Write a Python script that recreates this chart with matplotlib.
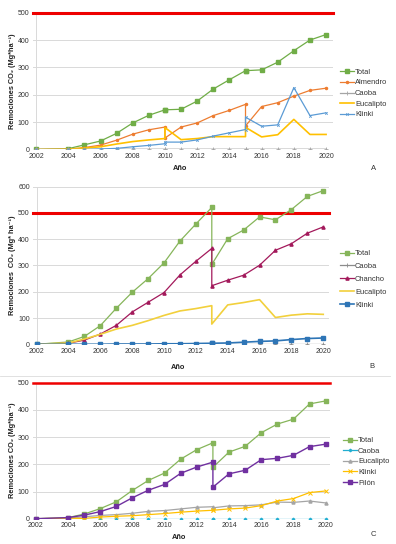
import matplotlib
matplotlib.use('Agg')
import matplotlib.pyplot as plt
from matplotlib.lines import Line2D

plt.rcParams['font.family'] = ['Liberation Sans', 'DejaVu Sans']

# --- Panel A ---
years_a = [2002, 2004, 2005, 2006, 2007, 2008, 2009, 2010, 2010, 2011,
           2012, 2013, 2014, 2015, 2015, 2016, 2017, 2018, 2019, 2020]
total_a = [0, 3, 17, 31, 59, 97, 125, 145, 145, 147,
           177, 221, 255, 288, 288, 291, 319, 361, 400, 420]
almendro_a = [0, 1, 7, 16, 34, 56, 72, 82, 42, 82,
              97, 124, 143, 165, 86, 157, 171, 195, 216, 224]
caoba_a = [0, 0, 0, 1, 1, 1, 1, 1, 1, 1,
           1, 1, 1, 1, 1, 1, 1, 1, 1, 1]
eucalipto_a = [0, 1, 5, 10, 20, 29, 35, 40, 80, 36,
               40, 47, 47, 47, 81, 46, 54, 110, 55, 55]
klinki_a = [0, 0, 0, 2, 4, 10, 15, 21, 27, 27,
            35, 49, 61, 73, 118, 85, 90, 226, 124, 134]

# --- Panel B ---
years_b = [2002, 2004, 2005, 2006, 2007, 2008, 2009, 2010, 2011, 2012,
           2013, 2013, 2014, 2015, 2016, 2017, 2018, 2019, 2020]
total_b = [0, 9, 30, 71, 137, 198, 250, 310, 393, 458,
           521, 304, 402, 435, 485, 474, 513, 563, 585]
caoba_b = [0] * 19
chancho_b = [0, 4, 16, 39, 72, 123, 160, 197, 264, 316,
             365, 223, 244, 263, 301, 358, 383, 423, 447]
eucalipto_b = [0, 5, 20, 38, 58, 72, 90, 110, 127, 136,
               147, 77, 150, 159, 170, 102, 111, 116, 114]
klinki_b = [0, 0, 0, 0, 1, 1, 1, 2, 2, 3,
            4, 4, 5, 8, 11, 13, 18, 22, 24]

# --- Panel C ---
years_c = years_b
total_c = [0, 4, 17, 37, 62, 104, 141, 168, 219, 254,
           279, 189, 245, 266, 316, 348, 366, 422, 433]
caoba_c = [0] * 19
eucalipto_c = [0, 2, 7, 12, 15, 20, 27, 30, 36, 42,
               44, 40, 47, 48, 51, 61, 60, 65, 58]
klinki_c = [0, 2, 1, 6, 9, 11, 15, 19, 24, 28,
            31, 31, 36, 39, 48, 65, 74, 96, 102]
pilon_c = [0, 4, 13, 26, 45, 77, 105, 126, 167, 190,
           208, 116, 165, 178, 217, 222, 233, 265, 274]

xticks = list(range(2002, 2021, 2))
tick_color = '#333333'
grid_color = '#d9d9d9'

fig = plt.figure(figsize=(3.96, 5.44), dpi=100)


def style_axis(ax, xlim, ymax, ylabel, xlab_y, red_lw):
    ax.set_xlim(*xlim)
    ax.set_ylim(0, ymax)
    ax.set_xticks(xticks)
    ax.set_yticks(range(0, ymax + 1, 100))
    for s in ax.spines.values():
        s.set_visible(False)
    ax.yaxis.grid(True, color=grid_color, lw=0.7)
    ax.set_axisbelow(True)
    ax.axvline(2002, color=grid_color, lw=0.7, zorder=0)
    ax.axhline(500, color='#ee0000', lw=red_lw, clip_on=False, zorder=1)
    ax.tick_params(length=0, labelsize=5, colors=tick_color, pad=2.5)
    ax.set_ylabel(ylabel, fontsize=5.3, fontweight='bold', color='#222222')
    ax.yaxis.set_label_coords(-0.058, 0.5)
    ax.set_xlabel('Año', fontsize=5.3, fontweight='bold', color='#222222')
    ax.xaxis.set_label_coords(0.49, xlab_y)


def add_legend(ax, x, y, spacing):
    ax.legend(loc='center left', bbox_to_anchor=(x, y), bbox_transform=fig.transFigure,
              frameon=False, fontsize=5.4, handlelength=1.8, handletextpad=0.2,
              labelspacing=spacing, borderpad=0, borderaxespad=0, labelcolor=tick_color)


# Panel A
ax_a = fig.add_axes([33 / 396, 0.7252, 300 / 396, 0.2515])
ax_a.plot(years_a, total_a, color='#70ad47', lw=0.9, marker='s', ms=2.2, label='Total')
ax_a.plot(years_a, almendro_a, color='#ed7d31', lw=0.9, marker='o', ms=1.5, label='Almendro')
ax_a.plot(years_a, caoba_a, color='#a5a5a5', lw=0.9, marker='+', ms=2.5, mew=0.6, label='Caoba')
ax_a.plot(years_a, eucalipto_a, color='#ffc000', lw=1.2, label='Eucalipto')
ax_a.plot(years_a, klinki_a, color='#5b9bd5', lw=0.9, marker='x', ms=1.8, mew=0.6, label='Klinki')
style_axis(ax_a, (2001.81, 2020.43), 500, 'Remociones CO₂ (Mg*ha⁻¹)', -0.11, 2.2)
add_legend(ax_a, 340 / 396, 1 - 93.5 / 544, 0.45)

# Panel B
ax_b = fig.add_axes([33.3 / 396, 0.3671, 296 / 396, 0.2897])
ax_b.plot(years_b, total_b, color='#86b55a', lw=0.9, marker='s', ms=2.2, label='Total')
ax_b.plot(years_b, caoba_b, color='#8c8c8c', lw=0.9, marker='+', ms=2.5, mew=0.6, label='Caoba')
ax_b.plot(years_b, chancho_b, color='#a3195b', lw=0.9, marker='^', ms=2.3, label='Chancho')
ax_b.plot(years_b, eucalipto_b, color='#f2d03c', lw=1.2, label='Eucalipto')
ax_b.plot(years_b, klinki_b, color='#2e75b6', lw=1.2, marker='s', ms=2.6, label='Klinki')
style_axis(ax_b, (2001.79, 2020.38), 600, 'Remociones  CO₂ (Mg* ha⁻¹)', -0.122, 2.2)
add_legend(ax_b, 340 / 396, 1 - 279.3 / 544, 0.75)

# Panel C
ax_c = fig.add_axes([33 / 396, 0.0465, 297 / 396, 0.25])
ax_c.plot(years_c, total_c, color='#86b55a', lw=0.9, marker='s', ms=2.4, label='Total')
ax_c.plot(years_c, caoba_c, color='#22aed1', lw=0.9, marker='D', ms=1.3, label='Caoba')
ax_c.plot(years_c, eucalipto_c, color='#a5a5a5', lw=0.9, marker='^', ms=2.2, label='Eucalipto')
ax_c.plot(years_c, klinki_c, color='#ffc000', lw=0.9, marker='x', ms=2.2, mew=0.7, label='Klinki')
ax_c.plot(years_c, pilon_c, color='#7030a0', lw=1.0, marker='s', ms=2.8, label='Pilón')
style_axis(ax_c, (2001.83, 2020.27), 500, 'Remociones CO₂ (Mg*ha⁻¹)', -0.109, 1.8)
add_legend(ax_c, 343 / 396, 1 - 461.8 / 544, 0.45)

# separator between panels B and C
fig.add_artist(Line2D([0, 0.985], [1 - 376 / 544] * 2, transform=fig.transFigure,
                      color='#dcdcdc', lw=0.6))

for letter, px, py in [('A', 374, 169), ('B', 372, 366), ('C', 373, 534)]:
    fig.text(px / 396, 1 - py / 544, letter, fontsize=5.5, color=tick_color,
             ha='center', va='center')

fig.savefig('out.png', dpi=100)
